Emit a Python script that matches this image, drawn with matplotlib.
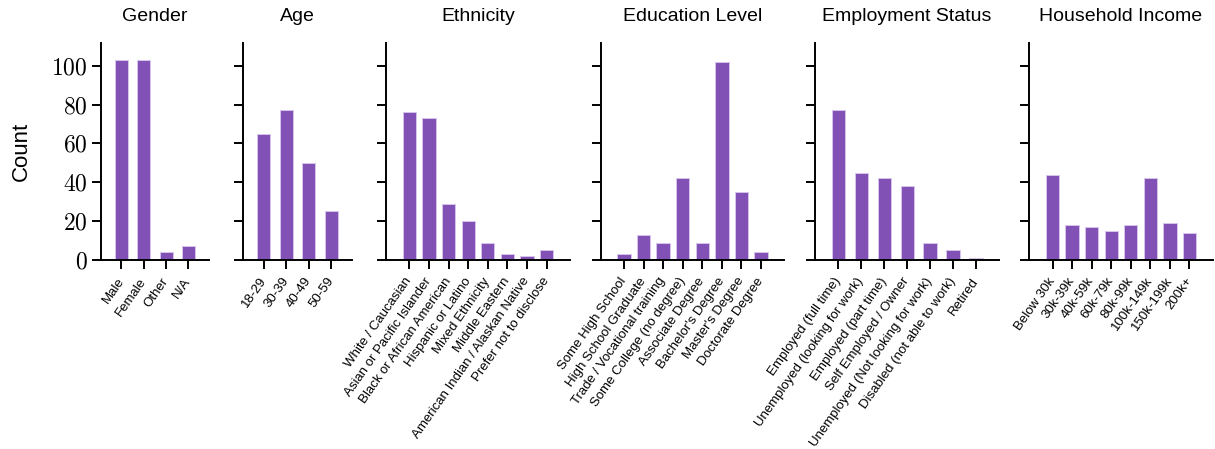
import matplotlib
matplotlib.use('Agg')
import matplotlib.pyplot as plt
from matplotlib.ticker import FuncFormatter

plt.rcParams['font.family'] = ['Liberation Sans', 'DejaVu Sans']
plt.rcParams['mathtext.fontset'] = 'cm'

# survey demographics (counts)
gender_labels = ['Male', 'Female', 'Other', 'N/A']
gender_counts = [103, 103, 4, 7]

age_labels = ['18-29', '30-39', '40-49', '50-59']
age_counts = [65, 77, 50, 25]

ethnicity_labels = ['White / Caucasian', 'Asian or Pacific Islander', 'Black or African American',
                    'Hispanic or Latino', 'Mixed Ethnicity', 'Middle Eastern',
                    'American Indian / Alaskan Native', 'Prefer not to disclose']
ethnicity_counts = [76, 73, 29, 20, 9, 3, 2, 5]

education_labels = ['Some High School', 'High School Graduate', 'Trade / Vocational training',
                    'Some College (no degree)', 'Associate Degree', "Bachelor's Degree",
                    "Master's Degree", 'Doctorate Degree']
education_counts = [3, 13, 9, 42, 9, 102, 35, 4]

employment_labels = ['Employed (full time)', 'Unemployed (looking for work)', 'Employed (part time)',
                     'Self Employed / Owner', 'Unemployed (Not looking for work)',
                     'Disabled (not able to work)', 'Retired']
employment_counts = [77, 45, 42, 38, 9, 5, 1]

income_labels = ['Below 30k', '30k-39k', '40k-59k', '60k-79k', '80k-99k', '100k-149k', '150k-199k', '200k+']
income_counts = [44, 18, 17, 15, 18, 42, 19, 14]

titles = ['Gender', 'Age', 'Ethnicity', 'Education Level', 'Employment Status', 'Household Income']
panels = [(gender_labels, gender_counts), (age_labels, age_counts),
          (ethnicity_labels, ethnicity_counts), (education_labels, education_counts),
          (employment_labels, employment_counts), (income_labels, income_counts)]

W, H = 1215, 449
fig = plt.figure(figsize=(W / 100, H / 100), dpi=100)

# panel extents in pixels: (left, right, outer margin)
boxes = [(101, 209, 20.5), (243.3, 351.7, 20.5), (386, 570, 23.3),
         (600.7, 784.3, 23.3), (815, 999.3, 23.3), (1029.3, 1212.7, 23.3)]
top_px, bot_px = 43, 260
bar_px = 13.3

color = '#8151b5'
for i, ((labels, counts), title, (x0, x1, m)) in enumerate(zip(panels, titles, boxes)):
    ax = fig.add_axes([x0 / W, (H - bot_px) / H, (x1 - x0) / W, (bot_px - top_px) / H])
    n = len(labels)
    step = (x1 - x0 - 2 * m) / (n - 1)
    pos = list(range(n))
    ax.bar(pos, counts, width=bar_px / step, color=color, edgecolor='#d6c4ec', linewidth=0.7)
    ax.set_xlim(-m / step, n - 1 + m / step)
    ax.set_ylim(0, 111.7)
    ax.set_yticks([0, 20, 40, 60, 80, 100])
    ax.set_xticks(pos)
    ax.set_xticklabels(labels, rotation=55, ha='right', va='center',
                       rotation_mode='anchor', fontsize=9.5)
    ax.set_title(title, fontsize=14, pad=16)
    for side in ['top', 'right']:
        ax.spines[side].set_visible(False)
    for side in ['left', 'bottom']:
        ax.spines[side].set_linewidth(1.4)
    ax.tick_params(axis='both', length=6.5, width=1.4)
    ax.tick_params(axis='x', pad=7)
    if i == 0:
        ax.yaxis.set_major_formatter(FuncFormatter(lambda v, p: f'${v:.0f}$'))
        ax.tick_params(axis='y', labelsize=17, pad=3)
        ax.set_ylabel('Count', fontsize=16, labelpad=14)
    else:
        ax.tick_params(axis='y', labelleft=False)

fig.savefig('out.png', dpi=100)
